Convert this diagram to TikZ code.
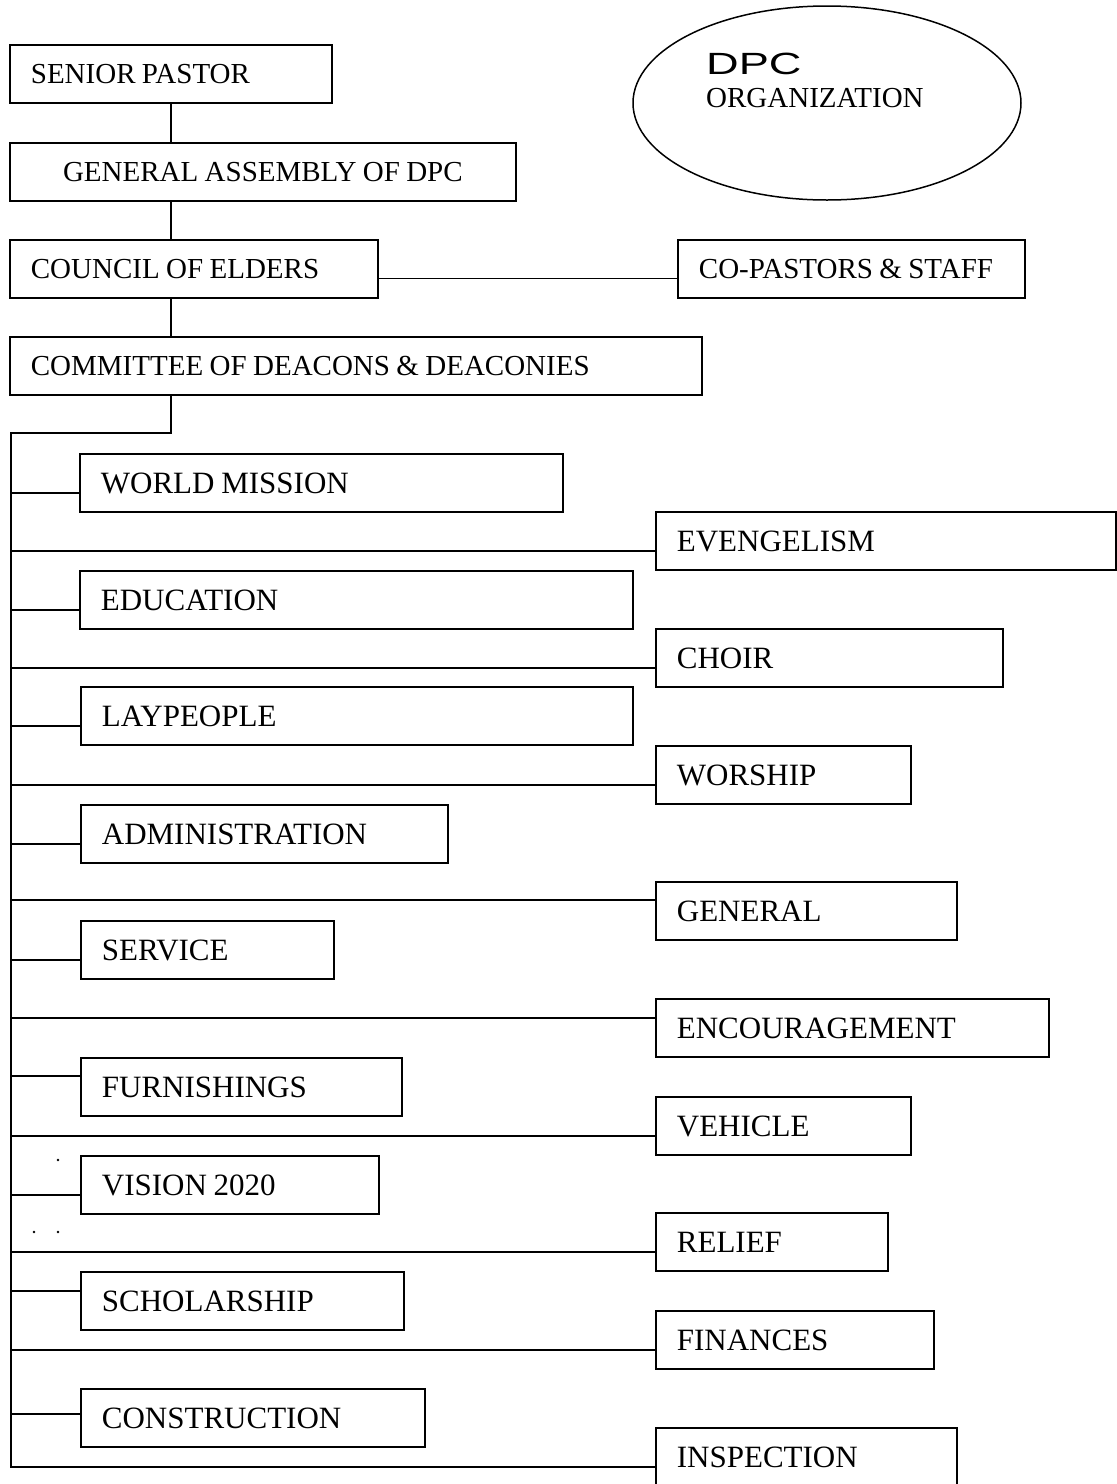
\documentclass[tikz,border=0pt]{standalone}
\usepackage{fontspec}
\usepackage{graphicx}
\setmainfont{Liberation Serif}
\newfontfamily\dpcfont{Liberation Sans}
\usetikzlibrary{shapes.geometric,calc}
\tikzset{
  box/.style={draw, line width=1.8pt, rectangle, anchor=north west, inner xsep=21pt, inner ysep=0pt, minimum height=58pt, text depth=0pt, align=left, execute at begin node={\spaceskip=0.22em\relax}},
  big/.style={box, font=\fontsize{31}{31}\selectfont, text height=20.5pt},
  small/.style={box, font=\fontsize{29}{29}\selectfont, text height=19.2pt},
  conn/.style={line width=1.8pt},
  speck/.style={circle, fill=black, inner sep=0pt, minimum size=2.8pt},
}
\begin{document}
\begin{tikzpicture}[x=1pt,y=-1pt]
\useasboundingbox (0,0) rectangle (1117,1484);
% header ellipse
\node[draw, ellipse, line width=1.5pt, minimum width=388pt, minimum height=194pt, inner sep=0pt] (org) at (827,103) {};
\node[anchor=base west, inner sep=0pt, font=\dpcfont\fontsize{30.7}{31}\selectfont] (dpc) at (706,74) {\scalebox{1.47}[1]{DPC}};
\node[anchor=base west, inner sep=0pt, font=\fontsize{29}{29}\selectfont] (orgt) at (706,107) {ORGANIZATION};
% top chain
\node[small, text width=280pt] (sp) at (9,44) {SENIOR PASTOR};
\node[small, text width=464pt, align=center] (ga) at (9,142) {GENERAL ASSEMBLY OF DPC};
\node[small, text width=326pt] (ce) at (9,239) {COUNCIL OF ELDERS};
\node[small, text width=305pt] (cp) at (677,239) {CO-PASTORS \& STAFF};
\node[small, text width=650pt] (cd) at (9,336) {COMMITTEE OF DEACONS \& DEACONIES};
% left column
\node[big, text width=441pt] (wm) at (79,453) {WORLD MISSION};
\node[big, text width=511pt] (ed) at (79,570) {EDUCATION};
\node[big, text width=510pt] (lp) at (80,686) {LAYPEOPLE};
\node[big, text width=325pt] (ad) at (80,804) {ADMINISTRATION};
\node[big, text width=211pt] (sv) at (80,920) {SERVICE};
\node[big, text width=279pt] (fu) at (80,1057) {FURNISHINGS};
\node[big, text width=256pt] (vi) at (80,1155) {VISION 2020};
\node[big, text width=281pt] (sc) at (80,1271) {SCHOLARSHIP};
\node[big, text width=302pt] (co) at (80,1388) {CONSTRUCTION};
% right column
\node[big, text width=418pt] (ev) at (655,511) {EVENGELISM};
\node[big, text width=305pt] (ch) at (655,628) {CHOIR};
\node[big, text width=213pt] (wo) at (655,745) {WORSHIP};
\node[big, text width=259pt] (gn) at (655,881) {GENERAL};
\node[big, text width=351pt] (en) at (655,998) {ENCOURAGEMENT};
\node[big, text width=213pt] (ve) at (655,1096) {VEHICLE};
\node[big, text width=190pt] (re) at (655,1212) {RELIEF};
\node[big, text width=236pt] (fi) at (655,1310) {FINANCES};
\node[big, text width=259pt] (in) at (655,1427) {INSPECTION};
% helper coordinates
\coordinate (vx) at (171,0);
\coordinate (tx) at (11,433);
\coordinate (gnc) at ($(gn.north west)+(0,19)$);
\coordinate (enc) at ($(en.north west)+(0,20)$);
\coordinate (fuc) at ($(fu.north west)+(0,19)$);
\coordinate (scc) at ($(sc.north west)+(0,20)$);
\coordinate (coc) at ($(co.north west)+(0,26)$);
% connectors
\draw[conn] (sp.south -| vx) -- (ga.north -| vx);
\draw[conn] (ga.south -| vx) -- (ce.north -| vx);
\draw[conn] (ce.south -| vx) -- (cd.north -| vx);
\draw[conn] (ce.base east) -- (cp.base west);
\draw[conn] (cd.south -| vx) |- (tx) |- (in.base west);
\foreach \n in {wm,ed,lp,ad,sv,vi,ev,ch,wo,ve,re,fi}{
  \draw[conn] (tx |- \n.base west) -- (\n.base west);
}
\foreach \c in {gnc,enc,fuc,scc,coc}{
  \draw[conn] (tx |- \c) -- (\c);
}
% stray specks
\node[speck] (d1) at (58,1160) {};
\node[speck] (d2) at (34,1232) {};
\node[speck] (d3) at (58,1232) {};
\end{tikzpicture}
\end{document}
